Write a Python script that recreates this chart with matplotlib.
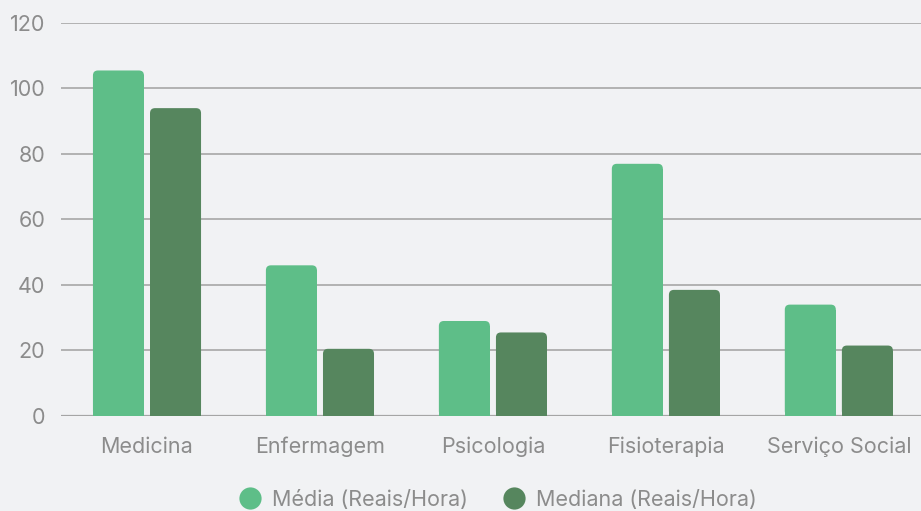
import numpy as np
import matplotlib.pyplot as plt
from matplotlib.patches import FancyBboxPatch
from matplotlib.lines import Line2D

cursos = ["Medicina", "Enfermagem", "Psicologia", "Fisioterapia", "Serviço Social"]
media = [105.5, 46, 29, 77, 34]
mediana = [94, 20.5, 25.5, 38.5, 21.5]

cor_media = "#5ebe88"
cor_mediana = "#56865e"
fundo = "#f1f2f4"
cinza = "#8c8c8c"

plt.rcParams['font.family'] = ['Inter', 'DejaVu Sans']

fig = plt.figure(figsize=(9.21, 5.11), dpi=100, facecolor=fundo)
ax = fig.add_axes([0.0657, 0.186, 0.939, 0.769], facecolor=fundo)

x = np.arange(len(cursos))
w = 0.295
gap = 0.035
ax.set_xlim(-0.5, len(cursos) - 0.5)
ax.set_ylim(0, 120)

# grade atras das barras
ax.set_yticks(range(0, 121, 20))
ax.yaxis.grid(True, color="#adadad", linewidth=1.3, zorder=0)
ax.set_axisbelow(True)
for s in ax.spines.values():
    s.set_visible(False)
ax.axhline(0, color="#a5a5a5", linewidth=1.6, zorder=1)

# raio do canto em pixels -> unidades de dados
raio_px = 5
px_x = ax.transData.transform((1, 0))[0] - ax.transData.transform((0, 0))[0]
px_y = ax.transData.transform((0, 1))[1] - ax.transData.transform((0, 0))[1]
r_x = raio_px / px_x
r_y = raio_px / px_y
aspecto = px_x / px_y


def barras_arredondadas(pos, valores, cor):
    bars = ax.bar(pos, [v - r_y for v in valores], w, color=cor, zorder=2)
    for bar, v in zip(bars, valores):
        p = FancyBboxPatch((bar.get_x() + r_x, r_y), bar.get_width() - 2 * r_x, v - 2 * r_y,
                           boxstyle=f"round,pad={r_x},rounding_size={r_x}",
                           mutation_aspect=aspecto, facecolor=cor, edgecolor="none", zorder=2)
        ax.add_patch(p)


barras_arredondadas(x - (w + gap) / 2, media, cor_media)
barras_arredondadas(x + (w + gap) / 2, mediana, cor_mediana)

ax.set_xticks(x)
ax.set_xticklabels(cursos)
ax.tick_params(axis="both", length=0, labelsize=15.5, labelcolor=cinza)
ax.tick_params(axis="x", pad=15)
ax.tick_params(axis="y", pad=11)

handles = [
    Line2D([], [], marker="o", linestyle="none", markersize=16, markerfacecolor=cor_media, markeredgecolor="none"),
    Line2D([], [], marker="o", linestyle="none", markersize=16, markerfacecolor=cor_mediana, markeredgecolor="none"),
]
leg = fig.legend(handles, ["Média (Reais/Hora)", "Mediana (Reais/Hora)"], loc="center",
                 bbox_to_anchor=(0.535, 0.022), ncol=2, frameon=False, fontsize=15.5,
                 handletextpad=0.05, columnspacing=1.1, labelcolor=cinza)

fig.savefig("out.png", dpi=100, facecolor=fundo)
